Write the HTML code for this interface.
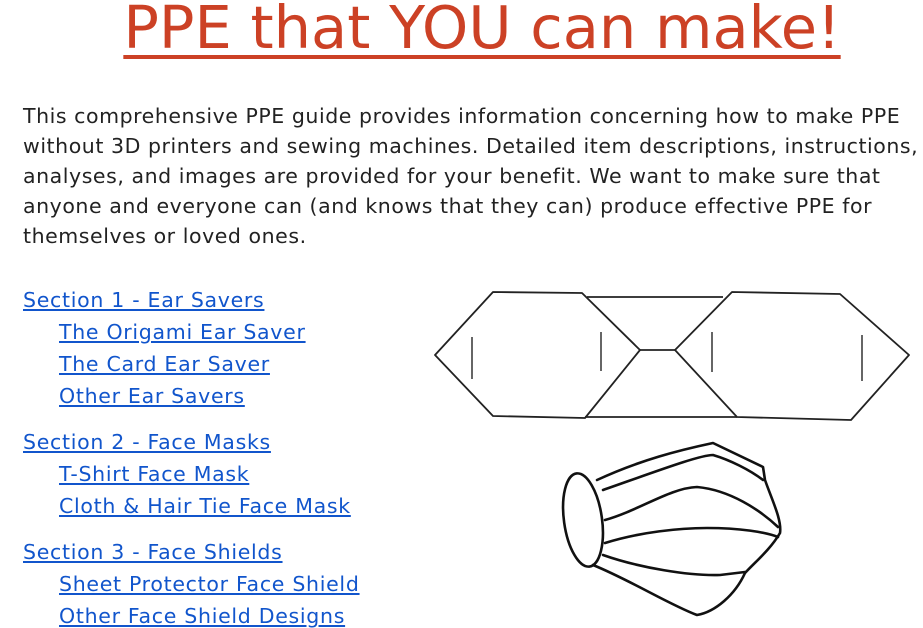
<!DOCTYPE html>
<html><head><meta charset="utf-8"><style>
body{margin:0;width:923px;height:625px;background:#fff;overflow:hidden;position:relative;font-family:"DejaVu Sans","Liberation Sans",sans-serif;}
.t{position:absolute;white-space:nowrap;}
#title{left:0;width:964px;text-align:center;top:-7px;font-size:59px;color:#cc4125;text-decoration:underline;text-decoration-thickness:4px;text-underline-offset:7px;}
.p{left:23px;font-size:20.5px;letter-spacing:0.55px;color:#222;}
.a{font-size:20.5px;letter-spacing:0.7px;color:#1155cc;text-decoration:underline;}
svg{position:absolute;left:0;top:0;}
</style></head><body>
<div id="title" class="t">PPE that YOU can make!</div>
<div class="t p" style="top:104px">This comprehensive PPE guide provides information concerning how to make PPE</div>
<div class="t p" style="top:134px">without 3D printers and sewing machines. Detailed item descriptions, instructions,</div>
<div class="t p" style="top:164px">analyses, and images are provided for your benefit. We want to make sure that</div>
<div class="t p" style="top:194px">anyone and everyone can (and knows that they can) produce effective PPE for</div>
<div class="t p" style="top:224px">themselves or loved ones.</div>
<a class="t a" style="left:23px;top:288px">Section 1 - Ear Savers</a>
<a class="t a" style="left:59px;top:320px">The Origami Ear Saver</a>
<a class="t a" style="left:59px;top:352px">The Card Ear Saver</a>
<a class="t a" style="left:59px;top:384px">Other Ear Savers</a>
<a class="t a" style="left:23px;top:430px">Section 2 - Face Masks</a>
<a class="t a" style="left:59px;top:462px">T-Shirt Face Mask</a>
<a class="t a" style="left:59px;top:494px">Cloth &amp; Hair Tie Face Mask</a>
<a class="t a" style="left:23px;top:540px">Section 3 - Face Shields</a>
<a class="t a" style="left:59px;top:572px">Sheet Protector Face Shield</a>
<a class="t a" style="left:59px;top:604px">Other Face Shield Designs</a>
<svg width="923" height="625">
<g fill="none" stroke="#222" stroke-width="1.8" stroke-linejoin="round">
<polygon points="435,355 493,292 582,293 640,350 585,418 493,416"/>
<polygon points="675,350 732,292 840,294 909,355 851,420 737,417"/>
<line x1="587" y1="297" x2="723" y2="297"/>
<line x1="640" y1="350" x2="675" y2="350"/>
<line x1="585" y1="417" x2="737" y2="417"/>
<line x1="472" y1="337" x2="472" y2="379" stroke="#555"/>
<line x1="601" y1="332" x2="601" y2="371" stroke="#555"/>
<line x1="712" y1="332" x2="712" y2="372" stroke="#555"/>
<line x1="862" y1="335" x2="862" y2="381" stroke="#555"/>
</g>
<g fill="none" stroke="#111" stroke-width="2.6" stroke-linejoin="round" stroke-linecap="round">
<ellipse cx="583" cy="520" rx="19" ry="47" transform="rotate(-8 583 520)"/>
<path d="M597,480 C640,460 680,450 713,443 L763,467 L765,480 C772,500 782,520 780,533 C770,550 755,562 745,573 C735,595 715,612 697,615 C670,605 630,580 593,565"/>
<path d="M603,490 C660,470 700,455 713,455 C730,460 750,470 763,480"/>
<path d="M605,520 C640,510 670,488 697,487 C730,490 760,510 778,527"/>
<path d="M605,543 C640,532 680,528 707,528 C740,528 765,532 778,537"/>
<path d="M603,555 C640,568 690,576 720,575 L745,572"/>
</g>
</svg>
</body></html>
